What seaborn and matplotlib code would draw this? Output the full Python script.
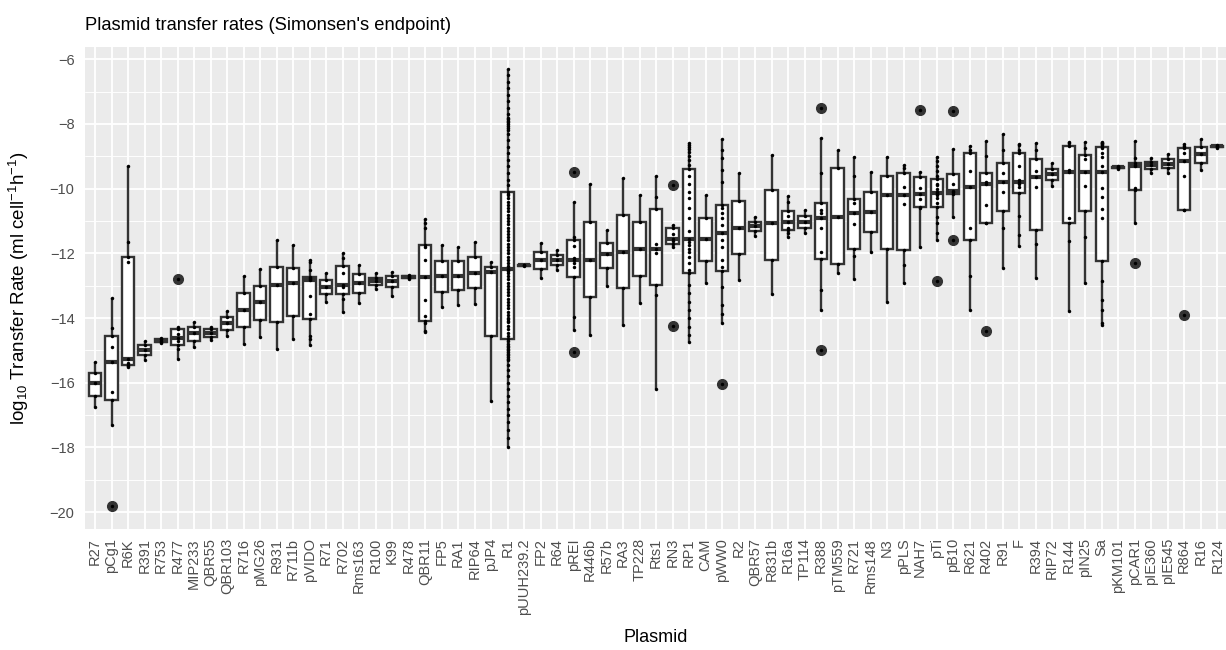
import matplotlib
matplotlib.use("Agg")
import matplotlib.pyplot as plt
from matplotlib.ticker import MultipleLocator
import pandas as pd
import seaborn as sns

# Plasmids, ordered by median transfer rate
plasmids = ["R27", "pCg1", "R6K", "R391", "R753", "R477", "MIP233", "QBR55",
            "QBR103", "R716", "pMG26", "R931", "R711b", "pVIDO", "R71", "R702",
            "Rms163", "R100", "K99", "R478", "QBR11", "FP5", "RA1", "RIP64",
            "pJP4", "R1", "pUUH239.2", "FP2", "R64", "pREI", "R446b", "R57b",
            "RA3", "TP228", "Rts1", "RN3", "RP1", "CAM", "pWW0", "R2", "QBR57",
            "R831b", "R16a", "TP114", "R388", "pTM559", "R721", "Rms148", "N3",
            "pPLS", "NAH7", "pTi", "pB10", "R621", "R402", "R91", "F", "R394",
            "RIP72", "R144", "pIN25", "Sa", "pKM101", "pCAR1", "pIE360",
            "pIE545", "R864", "R16", "R124"]

# log10 transfer rates (ml cell^-1 h^-1) per plasmid
R27 = [-16.74, -16.41, -16.02, -15.71, -15.35]
pCg1 = [-19.81, -17.31, -16.54, -16.30, -15.35, -14.90, -14.56, -14.30, -13.37]
R6K = [-15.50, -15.47, -15.45, -15.40, -15.28, -12.26, -12.12, -11.66, -9.30]
R391 = [-15.31, -15.14, -14.99, -14.84, -14.71]
R753 = [-14.78, -14.74, -14.70, -14.66, -14.62]
R477 = [-15.25, -14.95, -14.84, -14.70, -14.63, -14.50, -14.35, -14.29, -12.78]
MIP233 = [-14.89, -14.70, -14.47, -14.29, -14.11]
QBR55 = [-14.68, -14.58, -14.47, -14.35, -14.27]
QBR103 = [-14.56, -14.37, -14.14, -13.96, -13.77]
R716 = [-14.80, -14.27, -13.75, -13.24, -12.70]
pMG26 = [-14.58, -14.06, -13.49, -13.00, -12.48]
R931 = [-14.95, -14.11, -12.98, -12.41, -11.59]
R711b = [-14.66, -13.94, -12.91, -12.46, -11.74]
pVIDO = [-14.84, -14.65, -14.55, -14.04, -13.86, -13.32, -12.82, -12.80,
         -12.75, -12.72, -12.52, -12.26, -12.19]
R71 = [-13.49, -13.26, -13.03, -12.82, -12.62]
R702 = [-13.80, -13.40, -13.26, -13.03, -12.98, -12.62, -12.39, -12.15, -12.00]
Rms163 = [-13.52, -13.24, -12.91, -12.65, -12.37]
R100 = [-13.11, -12.98, -12.85, -12.75, -12.62]
K99 = [-13.31, -13.05, -12.85, -12.70, -12.59]
R478 = [-12.78, -12.75, -12.73, -12.71, -12.68]
QBR11 = [-14.43, -14.40, -14.16, -14.09, -13.94, -13.44, -12.74, -12.20,
         -11.80, -11.74, -11.20, -11.05, -10.95]
FP5 = [-13.65, -13.18, -12.70, -12.23, -11.74]
RA1 = [-13.60, -13.13, -12.70, -12.24, -11.81]
RIP64 = [-13.57, -13.08, -12.60, -12.12, -11.64]
pJP4 = [-16.56, -14.56, -12.57, -12.43, -12.28]
R1 = [-18.00, -17.70, -17.45, -17.20, -17.00, -16.80, -16.60, -16.40, -16.20,
      -16.00, -15.80, -15.60, -15.45, -15.30, -15.25, -15.20, -15.15, -15.10,
      -15.05, -15.00, -14.95, -14.90, -14.85, -14.80, -14.72, -14.66, -14.55,
      -14.45, -14.35, -14.25, -14.12, -14.08, -14.04, -14.00, -13.90, -13.80,
      -13.70, -13.60, -13.50, -13.40, -13.30, -13.20, -13.10, -13.00, -12.90,
      -12.80, -12.70, -12.62, -12.55, -12.50, -12.47, -12.40, -12.30, -12.20,
      -12.10, -12.00, -11.90, -11.80, -11.70, -11.60, -11.50, -11.40, -11.30,
      -11.20, -11.10, -11.00, -10.90, -10.80, -10.70, -10.60, -10.50, -10.40,
      -10.30, -10.20, -10.15, -10.09, -9.90, -9.73, -9.50, -9.30, -9.10, -8.90,
      -8.70, -8.50, -8.30, -8.18, -8.12, -8.06, -8.00, -7.95, -7.90, -7.85,
      -7.80, -7.70, -7.50, -7.30, -7.10, -6.90, -6.70, -6.50, -6.31]
pUUH239_2 = [-12.39, -12.37, -12.35]
FP2 = [-12.77, -12.49, -12.21, -11.95, -11.67]
R64 = [-12.52, -12.36, -12.19, -12.05, -11.90]
pREI = [-15.04, -14.37, -13.96, -12.72, -12.41, -12.30, -12.19, -12.15,
        -11.77, -11.59, -11.48, -10.42, -9.47]
R446b = [-14.53, -13.36, -12.19, -11.04, -9.87]
R57b = [-13.01, -12.44, -12.03, -11.69, -11.28]
RA3 = [-14.22, -13.08, -11.95, -10.81, -9.66]
TP228 = [-13.53, -12.69, -11.85, -11.04, -10.20]
Rts1 = [-16.20, -13.29, -12.98, -12.00, -11.85, -11.71, -10.63, -10.25, -9.61]
RN3 = [-14.24, -11.81, -11.71, -11.62, -11.57, -11.40, -11.20, -11.12, -9.89]
RP1 = [-14.73, -14.53, -14.27, -14.01, -13.75, -13.49, -13.24, -12.98, -12.60,
       -12.52, -12.30, -12.10, -11.95, -11.85, -11.74, -11.65, -11.57, -11.30,
       -10.90, -10.59, -10.30, -10.09, -9.84, -9.60, -9.39, -9.27, -9.11,
       -8.98, -8.86, -8.78, -8.70, -8.65, -8.60]
CAM = [-12.93, -12.23, -11.57, -10.90, -10.20]
pWW0 = [-16.05, -14.14, -13.86, -13.60, -13.03, -12.54, -12.41, -12.21,
        -11.80, -11.59, -11.36, -11.12, -10.90, -10.76, -10.60, -10.51,
        -9.80, -9.43, -9.06, -8.81, -8.47]
R2 = [-12.82, -12.02, -11.20, -10.37, -9.53]
QBR57 = [-11.46, -11.30, -11.14, -11.02, -10.87]
R831b = [-13.26, -12.19, -11.07, -10.04, -8.96]
R16a = [-11.48, -11.38, -11.28, -11.23, -11.02, -10.85, -10.68, -10.40, -10.23]
TP114 = [-11.38, -11.20, -11.02, -10.84, -10.66]
R388 = [-14.98, -13.75, -13.13, -12.18, -11.95, -11.20, -10.92, -10.76,
        -10.66, -10.43, -9.53, -8.42, -7.52]
pTM559 = [-12.62, -12.34, -10.89, -9.35, -8.80]
R721 = [-12.80, -12.08, -11.85, -11.09, -10.76, -10.45, -10.33, -9.60, -9.01]
Rms148 = [-11.95, -11.33, -10.71, -10.09, -9.47]
N3 = [-13.49, -11.87, -10.20, -9.61, -9.03]
pPLS = [-12.90, -12.37, -11.90, -10.48, -10.20, -9.94, -9.53, -9.37, -9.27]
NAH7 = [-11.81, -10.61, -10.56, -10.32, -10.16, -9.98, -9.63, -9.49, -7.56]
pTi = [-12.84, -11.59, -11.38, -11.07, -10.87, -10.58, -10.45, -10.30, -10.20,
       -10.16, -10.14, -10.10, -10.00, -9.90, -9.84, -9.71, -9.60, -9.45,
       -9.30, -9.15, -9.01]
pB10 = [-11.59, -10.87, -10.16, -10.10, -10.06, -9.84, -9.55, -8.77, -7.59]
R621 = [-13.75, -12.70, -11.59, -11.20, -9.94, -9.45, -8.91, -8.80, -8.68]
R402 = [-14.40, -11.07, -11.07, -10.50, -9.86, -9.80, -9.53, -9.00, -8.52]
R91 = [-12.46, -11.20, -10.68, -10.09, -9.78, -9.53, -9.22, -8.80, -8.31]
F = [-11.77, -11.43, -10.85, -10.14, -9.95, -9.84, -9.78, -9.73, -9.30,
     -8.91, -8.80, -8.65, -8.62]
R394 = [-12.77, -11.71, -11.28, -9.96, -9.63, -9.44, -9.08, -8.80, -8.60]
RIP72 = [-9.92, -9.73, -9.56, -9.39, -9.22]
R144 = [-13.77, -11.61, -11.07, -10.92, -9.49, -9.42, -8.68, -8.60, -8.55]
pIN25 = [-12.93, -11.50, -10.68, -9.92, -9.49, -9.08, -8.96, -8.75, -8.55]
Sa = [-14.22, -14.16, -13.75, -13.44, -12.85, -12.23, -10.92, -10.64, -10.25,
      -9.99, -9.49, -9.30, -9.03, -8.90, -8.75, -8.70, -8.66, -8.62, -8.60,
      -8.58, -8.55]
pKM101 = [-9.38, -9.36, -9.34, -9.32, -9.30]
pCAR1 = [-12.29, -11.07, -10.04, -9.99, -9.30, -9.27, -9.20, -9.06, -8.52]
pIE360 = [-9.51, -9.39, -9.27, -9.16, -9.06]
pIE545 = [-9.53, -9.37, -9.24, -9.08, -8.93]
R864 = [-13.91, -10.66, -10.66, -9.60, -9.13, -8.90, -8.73, -8.68, -8.62]
R16 = [-9.42, -9.20, -8.93, -8.72, -8.47]
R124 = [-8.73, -8.71, -8.69, -8.67, -8.65]

samples = [R27, pCg1, R6K, R391, R753, R477, MIP233, QBR55, QBR103, R716,
           pMG26, R931, R711b, pVIDO, R71, R702, Rms163, R100, K99, R478,
           QBR11, FP5, RA1, RIP64, pJP4, R1, pUUH239_2, FP2, R64, pREI, R446b,
           R57b, RA3, TP228, Rts1, RN3, RP1, CAM, pWW0, R2, QBR57, R831b, R16a,
           TP114, R388, pTM559, R721, Rms148, N3, pPLS, NAH7, pTi, pB10, R621,
           R402, R91, F, R394, RIP72, R144, pIN25, Sa, pKM101, pCAR1, pIE360,
           pIE545, R864, R16, R124]

df = pd.DataFrame(
    [(name, v) for name, vals in zip(plasmids, samples) for v in vals],
    columns=["plasmid", "rate"],
)

sns.set_style("white")
plt.rcParams["font.family"] = ["Liberation Sans", "DejaVu Sans"]
plt.rcParams["mathtext.default"] = "regular"

W, H = 1226, 650
fig = plt.figure(figsize=(W / 100, H / 100), dpi=100)
ax = fig.add_axes([85 / W, 1 - 529 / H, (W - 85) / W, (529 - 47) / H])

dark = "#333333"
sns.boxplot(
    data=df, x="plasmid", y="rate", order=plasmids, ax=ax,
    color="white", saturation=1, linecolor=dark, linewidth=1.7, width=0.75,
    whis=1.5, showcaps=False, fliersize=7,
    flierprops=dict(marker="o", markerfacecolor=dark, markeredgecolor=dark),
    medianprops=dict(linewidth=3.0, color=dark),
)
sns.stripplot(
    data=df, x="plasmid", y="rate", order=plasmids, ax=ax,
    jitter=False, color="black", size=2.5, linewidth=0, zorder=3,
)

# ggplot-like grey panel with white grid
ax.set_facecolor("#EBEBEB")
for s in ax.spines.values():
    s.set_visible(False)
ax.set_axisbelow(True)
ax.yaxis.set_major_locator(MultipleLocator(2))
ax.yaxis.set_minor_locator(MultipleLocator(1))
ax.grid(which="major", axis="both", color="white", linewidth=1.3)
ax.grid(which="minor", axis="y", color="white", linewidth=0.65)
ax.tick_params(axis="y", which="minor", length=0)

ax.set_xlim(-0.606, 68.53)
ax.set_ylim(-20.52, -5.62)

ax.tick_params(axis="both", which="major", length=4.5, width=1.2, color=dark,
               labelcolor="#4D4D4D", labelsize=10.5, pad=2)
ax.tick_params(axis="y", pad=3)
plt.setp(ax.get_xticklabels(), rotation=90)

ax.set_xlabel("Plasmid", fontsize=13, color="black")
ax.xaxis.set_label_coords(0.5, -(629 - 529) / 482)
ax.set_ylabel(r"log$_{10}$ Transfer Rate (ml cell$^{-1}$h$^{-1}$)",
              fontsize=13.5, color="black")
ax.yaxis.set_label_coords(-(85 - 31) / 1141, 0.5)

ax.set_title("Plasmid transfer rates (Simonsen's endpoint)", loc="left",
             fontsize=13.2, color="black", pad=12)

fig.savefig("out.png", dpi=100)
